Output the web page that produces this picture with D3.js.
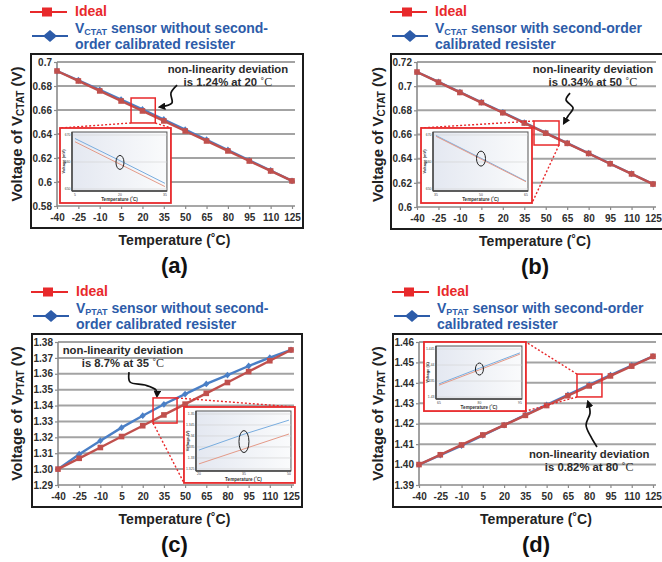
<!DOCTYPE html>
<html>
<head>
<meta charset="utf-8">
<script src="https://cdn.jsdelivr.net/npm/d3@7"></script>
<style>
body { margin: 0; background: #fff; }
svg { display: block; font-family: "Liberation Sans", Arial, sans-serif; }
</style>
</head>
<body>
<svg id="fig" width="662" height="562"></svg>
<script>
// temperatures on the x axis (°C)
const temps = [-40, -25, -10, 5, 20, 35, 50, 65, 80, 95, 110, 125];

// (a) VCTAT without second-order calibration
const idealA  = [0.6925, 0.6842, 0.6759, 0.6675, 0.6592, 0.6509, 0.6425, 0.6342, 0.6259, 0.6175, 0.6092, 0.6009];
const sensorA = [0.6925, 0.6848, 0.6768, 0.6687, 0.6605, 0.6521, 0.6436, 0.6352, 0.6267, 0.6181, 0.6096, 0.6009];
// (b) VCTAT with second-order calibration
const idealB  = [0.7117, 0.7033, 0.6948, 0.6864, 0.6780, 0.6695, 0.6611, 0.6527, 0.6443, 0.6358, 0.6274, 0.6190];
const sensorB = [0.7117, 0.7035, 0.6951, 0.6867, 0.6783, 0.6698, 0.6614, 0.6529, 0.6445, 0.6359, 0.6275, 0.6190];
// (c) VPTAT without second-order calibration
const idealC  = [1.3000, 1.3068, 1.3136, 1.3205, 1.3273, 1.3341, 1.3409, 1.3477, 1.3545, 1.3614, 1.3682, 1.3750];
const sensorC = [1.3000, 1.3094, 1.3179, 1.3261, 1.3336, 1.3408, 1.3472, 1.3536, 1.3592, 1.3649, 1.3701, 1.3750];
// (d) VPTAT with second-order calibration
const idealD  = [1.4000, 1.4048, 1.4096, 1.4145, 1.4193, 1.4241, 1.4289, 1.4337, 1.4385, 1.4434, 1.4482, 1.4530];
const sensorD = [1.4000, 1.4046, 1.4093, 1.4143, 1.4193, 1.4243, 1.4292, 1.4341, 1.4390, 1.4438, 1.4485, 1.4530];

// y ticks
const yTicksA = [0.58, 0.60, 0.62, 0.64, 0.66, 0.68, 0.70];
const yLabelsA = ["0.58", "0.6", "0.62", "0.64", "0.66", "0.68", "0.7"];
const yTicksB = [0.60, 0.62, 0.64, 0.66, 0.68, 0.70, 0.72];
const yLabelsB = ["0.6", "0.62", "0.64", "0.66", "0.68", "0.7", "0.72"];
const yTicksC = [1.29, 1.30, 1.31, 1.32, 1.33, 1.34, 1.35, 1.36, 1.37, 1.38];
const yLabelsC = ["1.29", "1.30", "1.31", "1.32", "1.33", "1.34", "1.35", "1.36", "1.37", "1.38"];
const yTicksD = [1.39, 1.40, 1.41, 1.42, 1.43, 1.44, 1.45, 1.46];
const yLabelsD = ["1.39", "1.40", "1.41", "1.42", "1.43", "1.44", "1.45", "1.46"];

// zoomed insets
const insetTempsA = [5, 20, 35];
const insetIdealA = [0.6675, 0.6592, 0.6509];
const insetSensorA = [0.6687, 0.6605, 0.6521];
const insetTicksA = [0.650, 0.660, 0.670];
const insetLabelsA = ["650", "660", "670"];
const insetTempsB = [35, 50, 65];
const insetIdealB = [0.6695, 0.6611, 0.6527];
const insetSensorB = [0.6698, 0.6614, 0.6529];
const insetTicksB = [0.650, 0.660, 0.670];
const insetLabelsB = ["650", "660", "670"];
const insetTempsC = [20, 35, 50];
const insetIdealC = [1.3273, 1.3341, 1.3409];
const insetSensorC = [1.3336, 1.3408, 1.3472];
const insetTicksC = [1.325, 1.33, 1.335, 1.34, 1.345, 1.35];
const insetLabelsC = ["1.325", "1.33", "1.335", "1.34", "1.345", "1.35"];
const insetTempsD = [65, 80, 95];
const insetIdealD = [1.4337, 1.4385, 1.4434];
const insetSensorD = [1.4341, 1.4390, 1.4438];
const insetTicksD = [1.43, 1.435, 1.44, 1.445];
const insetLabelsD = ["1.43", "1.435", "1.44", "1.445"];

const RED = "#e8292b", RED_LINE = "#c0504d", BLUE = "#2d5ca9", BLUE_LINE = "#4a7fc6";

const svg = d3.select("#fig");
const defs = svg.append("defs");
defs.append("marker").attr("id", "head")
    .attr("viewBox", "0 0 10 10").attr("refX", 7).attr("refY", 5)
    .attr("markerWidth", 4.5).attr("markerHeight", 4.5)
    .attr("orient", "auto")
    .append("path").attr("d", "M0,0 L10,5 L0,10 z").attr("fill", "#111");
const grad = defs.append("linearGradient").attr("id", "insetbg");
grad.append("stop").attr("offset", "0%").attr("stop-color", "#e4e8f1");
grad.append("stop").attr("offset", "100%").attr("stop-color", "#fafbfc");

const panels = [
    {left: 57, right: 292, top: 62, bottom: 206, yDomain: [0.58, 0.70], yTicks: yTicksA, yLabels: yLabelsA,
     ideal: idealA, sensor: sensorA, sub: "CTAT", letter: "(a)", titleX: 22,
     legend: [" sensor without second-", "order calibrated resister"],
     note: {t: 80, v1: 0.6908, v2: 0.680, line2: "is 1.24% at 20 "},
     arrow: [[44.3, 0.6808], [40.0, 0.6742], [40.7, 0.6658], [32.3, 0.6625]],
     box: [12, 29, 0.6492, 0.670],
     inset: [-37.9, 40, 0.5825, 0.645],
     links: [[[12, 0.6492], [-37.9, 0.645]], [[29, 0.6492], [40, 0.645]]],
     zoom: {temps: insetTempsA, ideal: insetIdealA, sensor: insetSensorA, ticks: insetTicksA, labels: insetLabelsA,
            domain: [0.650, 0.670], unit: "Voltage (mV)", rx: 4, ry: 7}},
    {left: 417, right: 653, top: 62, bottom: 207, yDomain: [0.60, 0.72], yTicks: yTicksB, yLabels: yLabelsB,
     ideal: idealB, sensor: sensorB, sub: "CTAT", letter: "(b)", titleX: 383,
     legend: [" sensor with second-order", "calibrated resister"],
     note: {t: 83, v1: 0.7109, v2: 0.7001, line2: "is 0.34% at 50 "},
     arrow: [[67.0, 0.6943], [64.2, 0.6886], [69.1, 0.6819], [65.6, 0.6753], [62.8, 0.6695]],
     box: [41.8, 59.3, 0.6513, 0.6712],
     inset: [-37.2, 40.4, 0.6033, 0.6654],
     links: [[[41.8, 0.6712], [-37.2, 0.6654]], [[59.3, 0.6513], [40.4, 0.6033]]],
     zoom: {temps: insetTempsB, ideal: insetIdealB, sensor: insetSensorB, ticks: insetTicksB, labels: insetLabelsB,
            domain: [0.650, 0.670], unit: "Voltage (mV)", rx: 4.5, ry: 7.5}},
    {left: 58, right: 291, top: 342, bottom: 485, yDomain: [1.29, 1.38], yTicks: yTicksC, yLabels: yLabelsC,
     ideal: idealC, sensor: sensorC, sub: "PTAT", letter: "(c)", titleX: 22,
     legend: [" sensor without second-", "order calibrated resister"],
     note: {t: 6, v1: 1.3724, v2: 1.3643, line2: "is 8.7% at 35 "},
     arrow: [[10.3, 1.3611], [11.0, 1.3548], [21.6, 1.3529], [29.4, 1.3498], [30.1, 1.3460]],
     box: [27.3, 44.3, 1.3290, 1.3448],
     inset: [49.2, 127.8, 1.2913, 1.3391],
     links: [[[44.3, 1.3448], [127.8, 1.3391]], [[27.3, 1.3290], [49.2, 1.2913]]],
     zoom: {temps: insetTempsC, ideal: insetIdealC, sensor: insetSensorC, ticks: insetTicksC, labels: insetLabelsC,
            domain: [1.325, 1.35], unit: "Voltage (V)", rx: 5, ry: 11}},
    {left: 419, right: 653, top: 342, bottom: 485, yDomain: [1.39, 1.46], yTicks: yTicksD, yLabels: yLabelsD,
     ideal: idealD, sensor: sensorD, sub: "PTAT", letter: "(d)", titleX: 383,
     legend: [" sensor with second-order", "calibrated resister"],
     note: {t: 80, v1: 1.4032, v2: 1.3969, line2: "is 0.82% at 80 "},
     arrow: [[85.5, 1.4086], [81.3, 1.4135], [77.8, 1.4194], [80.6, 1.4252], [79.2, 1.4306]],
     box: [71.4, 89.0, 1.4331, 1.4443],
     inset: [-36.5, 35.4, 1.4262, 1.46],
     links: [[[71.4, 1.4443], [35.4, 1.46]], [[71.4, 1.4331], [35.4, 1.4262]]],
     zoom: {temps: insetTempsD, ideal: insetIdealD, sensor: insetSensorD, ticks: insetTicksD, labels: insetLabelsD,
            domain: [1.43, 1.445], unit: "Voltage (V)", rx: 4, ry: 6}}
];

function drawPanel(p) {
    const g = svg.append("g");
    const x = d3.scaleLinear().domain([-40, 125]).range([p.left, p.right]);
    const y = d3.scaleLinear().domain(p.yDomain).range([p.bottom, p.top]);
    const fl = p.left - 26, ft = p.top - 8;

    // legend
    const leg = g.append("g");
    leg.append("line").attr("x1", fl - 1).attr("x2", fl + 36).attr("y1", ft - 42).attr("y2", ft - 42)
        .attr("stroke", RED).attr("stroke-width", 2);
    leg.append("rect").attr("x", fl + 11).attr("y", ft - 46.5).attr("width", 10).attr("height", 9).attr("fill", RED);
    leg.append("text").attr("x", fl + 44).attr("y", ft - 38).text("Ideal")
        .attr("fill", RED).attr("font-size", 14).attr("font-weight", "bold");
    leg.append("line").attr("x1", fl + 1).attr("x2", fl + 37).attr("y1", ft - 18).attr("y2", ft - 18)
        .attr("stroke", BLUE).attr("stroke-width", 2);
    leg.append("path").attr("transform", `translate(${fl + 19},${ft - 18})`)
        .attr("d", "M0,-6L7,0L0,6L-7,0Z").attr("fill", BLUE);
    const t1 = leg.append("text").attr("x", fl + 44).attr("y", ft - 21)
        .attr("fill", BLUE).attr("font-size", 14).attr("font-weight", "bold");
    t1.append("tspan").text("V");
    t1.append("tspan").text(p.sub).attr("font-size", 9).attr("dy", 2);
    t1.append("tspan").text(p.legend[0]).attr("dy", -2);
    leg.append("text").attr("x", fl + 44).attr("y", ft - 5).text(p.legend[1])
        .attr("fill", BLUE).attr("font-size", 14).attr("font-weight", "bold");

    // frame
    g.append("rect").attr("x", fl).attr("y", ft)
        .attr("width", p.right + 11 - fl).attr("height", p.bottom + 22 - ft)
        .attr("fill", "#fff").attr("stroke", "#1c1c1c").attr("stroke-width", 2);

    // grid lines
    g.selectAll("line.grid").data(p.yTicks.slice(1)).enter().append("line")
        .attr("class", "grid")
        .attr("x1", p.left).attr("x2", p.right + 3)
        .attr("y1", d => y(d)).attr("y2", d => y(d))
        .attr("stroke", "#a3a3a3").attr("stroke-width", 2);

    // axes
    const ya = g.append("g").attr("transform", `translate(${p.left},0)`)
        .call(d3.axisLeft(y).tickValues(p.yTicks).tickFormat((d, i) => p.yLabels[i]).tickSize(3).tickPadding(2));
    const xa = g.append("g").attr("transform", `translate(0,${p.bottom})`)
        .call(d3.axisBottom(x).tickValues(temps).tickFormat(d => String(d)).tickSize(3).tickPadding(5));
    [ya, xa].forEach(a => {
        a.select(".domain").attr("stroke", "#8a8a8a").attr("stroke-width", 1.6);
        a.selectAll(".tick line").attr("stroke", "#8a8a8a").attr("stroke-width", 1.2);
        a.selectAll(".tick text").attr("fill", "#2e2e2e").attr("font-size", 10)
            .attr("font-weight", "bold").attr("font-family", "Liberation Sans, Arial, sans-serif");
    });
    ya.select(".domain").attr("d", `M0,${p.bottom}V${p.top}`);
    xa.select(".domain").attr("d", `M${p.left},0H${p.right + 3}`);

    // axis titles
    g.append("text").attr("x", (p.left + p.right) / 2).attr("y", p.bottom + 38.5)
        .attr("text-anchor", "middle").attr("font-size", 14).attr("font-weight", "bold").attr("fill", "#222")
        .text("Temperature (\u02daC)");
    const yt = g.append("text")
        .attr("transform", `translate(${p.titleX},${(p.top + p.bottom) / 2}) rotate(-90)`)
        .attr("text-anchor", "middle").attr("font-size", 15).attr("font-weight", "bold").attr("fill", "#222");
    yt.append("tspan").text("Voltage of V");
    yt.append("tspan").text(p.sub).attr("font-size", 10).attr("dy", 2);
    yt.append("tspan").text(" (V)").attr("dy", -2);
    g.append("text").attr("x", (p.left + p.right) / 2).attr("y", p.bottom + 67)
        .attr("text-anchor", "middle").attr("font-size", 22).attr("font-weight", "bold").attr("fill", "#111")
        .text(p.letter);

    // series
    const line = d3.line().x((d, i) => x(temps[i])).y(d => y(d));
    g.append("path").datum(p.sensor).attr("d", line).attr("fill", "none")
        .attr("stroke", BLUE_LINE).attr("stroke-width", 2.4);
    g.selectAll("path.dia").data(p.sensor).enter().append("path").attr("class", "dia")
        .attr("transform", (d, i) => `translate(${x(temps[i])},${y(d)})`)
        .attr("d", "M0,-3.4L3,0L0,3.4L-3,0Z").attr("fill", BLUE_LINE);
    g.append("path").datum(p.ideal).attr("d", line).attr("fill", "none")
        .attr("stroke", RED_LINE).attr("stroke-width", 2.4);
    g.selectAll("rect.sq").data(p.ideal).enter().append("rect").attr("class", "sq")
        .attr("x", (d, i) => x(temps[i]) - 2.8).attr("y", d => y(d) - 2.8)
        .attr("width", 5.6).attr("height", 5.6).attr("fill", RED_LINE);

    // annotation
    const note = g.append("g").attr("font-size", 11.3).attr("font-weight", "bold").attr("fill", "#2b2b2b")
        .attr("text-anchor", "middle");
    note.append("text").attr("x", x(p.note.t)).attr("y", y(p.note.v1)).text("non-linearity deviation");
    const n2 = note.append("text").attr("x", x(p.note.t)).attr("y", y(p.note.v2));
    n2.append("tspan").text(p.note.line2);
    n2.append("tspan").text("\u02daC").attr("font-family", "Liberation Serif, Times New Roman, serif")
        .attr("font-weight", "normal").attr("font-size", 12);
    g.append("path").datum(p.arrow)
        .attr("d", d3.line().x(d => x(d[0])).y(d => y(d[1])).curve(d3.curveCatmullRom))
        .attr("fill", "none").attr("stroke", "#111").attr("stroke-width", 1.7)
        .attr("marker-end", "url(#head)");
    g.append("rect").attr("x", x(p.box[0])).attr("y", y(p.box[3]))
        .attr("width", x(p.box[1]) - x(p.box[0])).attr("height", y(p.box[2]) - y(p.box[3]))
        .attr("fill", "none").attr("stroke", RED).attr("stroke-width", 1.5);
    g.selectAll("line.link").data(p.links).enter().append("line").attr("class", "link")
        .attr("x1", d => x(d[0][0])).attr("y1", d => y(d[0][1]))
        .attr("x2", d => x(d[1][0])).attr("y2", d => y(d[1][1]))
        .attr("stroke", RED).attr("stroke-width", 1.4).attr("stroke-dasharray", "2,2");

    drawInset(g, x(p.inset[0]), y(p.inset[3]), x(p.inset[1]), y(p.inset[2]), p.zoom);
}

function drawInset(g, bx0, by0, bx1, by1, z) {
    const ig = g.append("g");
    ig.append("rect").attr("x", bx0).attr("y", by0).attr("width", bx1 - bx0).attr("height", by1 - by0)
        .attr("fill", "#fff").attr("stroke", RED).attr("stroke-width", 1.8);
    const ix0 = bx0 + 12, iy0 = by0 + 4, ix1 = bx1 - 4, iy1 = by1 - 12;
    ig.append("rect").attr("x", ix0).attr("y", iy0).attr("width", ix1 - ix0).attr("height", iy1 - iy0)
        .attr("fill", "url(#insetbg)").attr("stroke", "#555").attr("stroke-width", 1);
    const xi = d3.scaleLinear().domain([z.temps[0], z.temps[z.temps.length - 1]]).range([ix0 + 3, ix1 - 2]);
    const yi = d3.scaleLinear().domain(z.domain).range([iy1 - 2, iy0 + 3]);
    ig.selectAll("line.ig").data(z.ticks).enter().append("line").attr("class", "ig")
        .attr("x1", ix0).attr("x2", ix1).attr("y1", d => yi(d)).attr("y2", d => yi(d))
        .attr("stroke", "#d0d0d0").attr("stroke-width", 0.6);
    ig.append("line").attr("x1", ix0).attr("x2", ix0).attr("y1", iy0).attr("y2", iy1)
        .attr("stroke", "#444").attr("stroke-width", 1.4);
    ig.append("line").attr("x1", ix0).attr("x2", ix1).attr("y1", iy1).attr("y2", iy1)
        .attr("stroke", "#444").attr("stroke-width", 1.4);
    ig.selectAll("text.iy").data(z.ticks).enter().append("text").attr("class", "iy")
        .attr("x", ix0 - 1.5).attr("y", d => yi(d) + 1.2).attr("text-anchor", "end")
        .attr("font-size", 3.4).attr("fill", "#444").text((d, i) => z.labels[i]);
    ig.selectAll("text.ix").data(z.temps).enter().append("text").attr("class", "ix")
        .attr("x", d => xi(d)).attr("y", iy1 + 4.5).attr("text-anchor", "middle")
        .attr("font-size", 3.4).attr("fill", "#444").text(d => d);
    ig.append("text").attr("transform", `translate(${ix0 - 7},${(iy0 + iy1) / 2}) rotate(-90)`)
        .attr("text-anchor", "middle").attr("font-size", 4).attr("font-weight", "bold").attr("fill", "#333")
        .text(z.unit);
    ig.append("text").attr("x", (ix0 + ix1) / 2).attr("y", iy1 + 10).attr("text-anchor", "middle")
        .attr("font-size", 4.6).attr("font-weight", "bold").attr("fill", "#333").text("Temperature (\u02daC)");
    const li = d3.line().x((d, i) => xi(z.temps[i])).y(d => yi(d));
    ig.append("path").datum(z.sensor).attr("d", li).attr("fill", "none").attr("stroke", "#79addf").attr("stroke-width", 1);
    ig.append("path").datum(z.ideal).attr("d", li).attr("fill", "none").attr("stroke", "#e49a88").attr("stroke-width", 1);
    ig.append("ellipse").attr("cx", xi(z.temps[1])).attr("cy", (yi(z.sensor[1]) + yi(z.ideal[1])) / 2)
        .attr("rx", z.rx).attr("ry", z.ry).attr("fill", "none").attr("stroke", "#222").attr("stroke-width", 1);
}

panels.forEach(drawPanel);
</script>
</body>
</html>
